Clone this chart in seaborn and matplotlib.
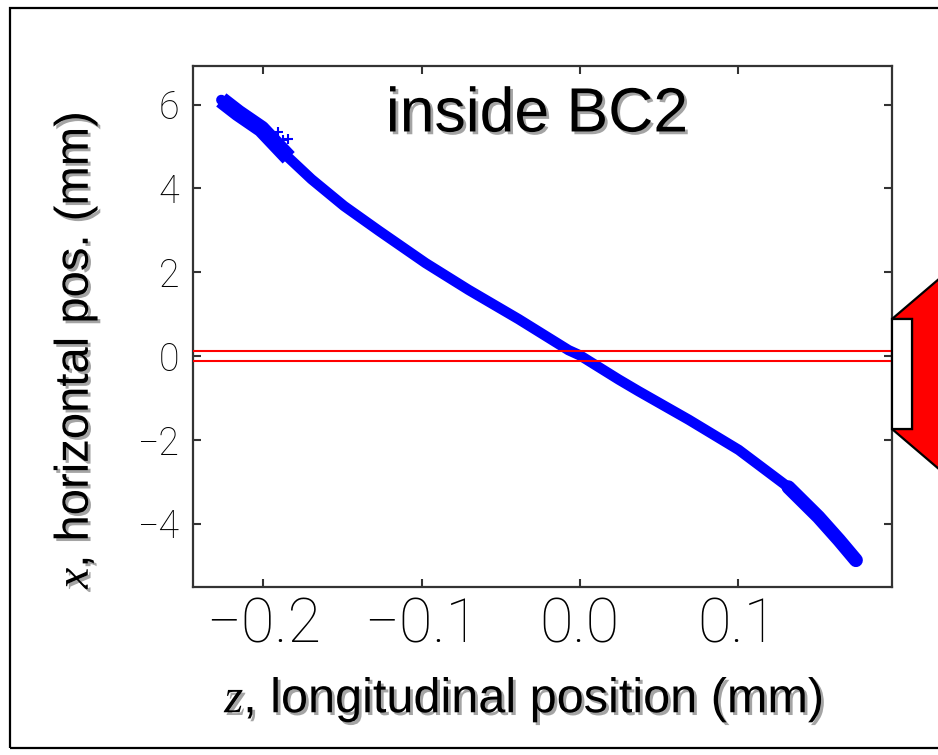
import matplotlib
matplotlib.use('Agg')
import matplotlib.pyplot as plt
import matplotlib.patheffects as pe
from matplotlib.patches import Polygon, Rectangle
import seaborn as sns

# beam centroid: z (mm) vs x (mm)
z_pos = [-0.2266, -0.216, -0.2013, -0.184, -0.1696, -0.149, -0.127, -0.0975,
         -0.0703, -0.0386, -0.007, 0.0, 0.0247, 0.0373, 0.069, 0.1006,
         0.132, 0.151, 0.164, 0.1747]
x_pos = [6.11, 5.80, 5.42, 4.73, 4.22, 3.58, 2.99, 2.22,
         1.58, 0.88, 0.14, 0.02, -0.56, -0.84, -1.52, -2.24,
         -3.13, -3.84, -4.39, -4.87]
# a few stray particles near the head
stray_z = [-0.1905, -0.1873, -0.1842]
stray_x = [5.35, 5.16, 5.18]
# red window lines
window = [0.12, -0.12]

xticks = [-0.2, -0.1, 0.0, 0.1]
xtick_labels = ['\u22120.2', '\u22120.1', '0.0', '0.1']
yticks = [-4, -2, 0, 2, 4, 6]
ytick_labels = ['\u22124', '\u22122', '0', '2', '4', '6']

sns.set_style('ticks')
plt.rcParams['font.family'] = ['Liberation Sans', 'DejaVu Sans']
plt.rcParams['mathtext.fontset'] = 'custom'
plt.rcParams['mathtext.it'] = 'Liberation Serif:italic'
plt.rcParams['mathtext.rm'] = 'Liberation Sans'

W, H = 938, 755
fig = plt.figure(figsize=(W / 100, H / 100), dpi=100)
fig.patch.set_facecolor('white')
ax = fig.add_axes([193 / W, 1 - 587 / H, (892 - 193) / W, (587 - 66) / H])

# band of particles
sns.lineplot(x=z_pos, y=x_pos, sort=False, estimator=None, color='#0000ff',
             lw=7.5, ax=ax, solid_capstyle='round', solid_joinstyle='round')
sns.lineplot(x=z_pos[:4], y=x_pos[:4], sort=False, estimator=None, color='#0000ff',
             lw=12, ax=ax, solid_capstyle='butt', solid_joinstyle='round')
sns.lineplot(x=z_pos[-4:], y=x_pos[-4:], sort=False, estimator=None, color='#0000ff',
             lw=10, ax=ax, solid_capstyle='round', solid_joinstyle='round')
sns.scatterplot(x=stray_z, y=stray_x, marker='+', s=60, color='#0000ff',
                linewidth=1.5, ax=ax)

for v in window:
    ax.axhline(v, color='red', lw=1.5, zorder=3)

ax.set_xlim(-0.2445, 0.1975)
ax.set_ylim(-5.51, 6.92)
ax.set_xticks(xticks)
ax.set_xticklabels(xtick_labels)
ax.set_yticks(yticks)
ax.set_yticklabels(ytick_labels)
ax.tick_params(direction='in', length=6, width=1.5, color='#333333',
               top=True, right=True)
ax.tick_params(axis='x', pad=7)
ax.tick_params(axis='y', pad=10)
for lab in ax.get_xticklabels():
    lab.set_fontfamily(['Roboto', 'DejaVu Sans'])
    lab.set_fontweight('light')
    lab.set_fontsize(44)
    lab.set_color('black')
for lab in ax.get_yticklabels():
    lab.set_fontfamily(['Roboto', 'DejaVu Sans'])
    lab.set_fontweight('light')
    lab.set_fontsize(27)
    lab.set_color('black')
for s in ax.spines.values():
    s.set_color('#333333')
    s.set_linewidth(1.6)
ax.set_xlabel('')
ax.set_ylabel('')

shadow = [pe.SimplePatchShadow(offset=(2, -2), shadow_rgbFace='#9a9a9a', alpha=0.9),
          pe.Normal()]

ax.text(0.492, 0.906, 'inside BC2', transform=ax.transAxes, ha='center',
        va='center', fontsize=45, color='black', path_effects=shadow)

fig.text(76 / W, 1 - 350 / H, r'$\mathit{x}$, horizontal pos. (mm)', rotation=90,
         ha='center', va='center', fontsize=34, color='black', path_effects=shadow)
fig.text(524 / W, 1 - 700 / H, r'$\mathit{z}$, longitudinal position (mm)',
         ha='center', va='center', fontsize=35, color='black', path_effects=shadow)

# outer slide border
fig.patches.append(Rectangle((10 / W, 1 - 748 / H), (945 - 10) / W, (748 - 8) / H,
                             transform=fig.transFigure, fill=False,
                             edgecolor='black', lw=1.6, zorder=0))

# up-down block arrow at the right edge
pts = [(892, 319), (960, 261), (1028, 319), (1008, 319), (1008, 429),
       (1028, 429), (960, 487), (892, 429), (912, 429), (912, 319)]
arrow = Polygon([(px / W, 1 - py / H) for px, py in pts], closed=True,
                transform=fig.transFigure, facecolor='red', edgecolor='black',
                lw=1.6, zorder=5)
fig.patches.append(arrow)
white = Polygon([(px / W, 1 - py / H) for px, py in
                 [(892, 319), (912, 319), (912, 429), (892, 429)]],
                closed=True, transform=fig.transFigure, facecolor='white',
                edgecolor='black', lw=1.6, zorder=5)
fig.patches.append(white)

fig.savefig('out.png', dpi=100)
